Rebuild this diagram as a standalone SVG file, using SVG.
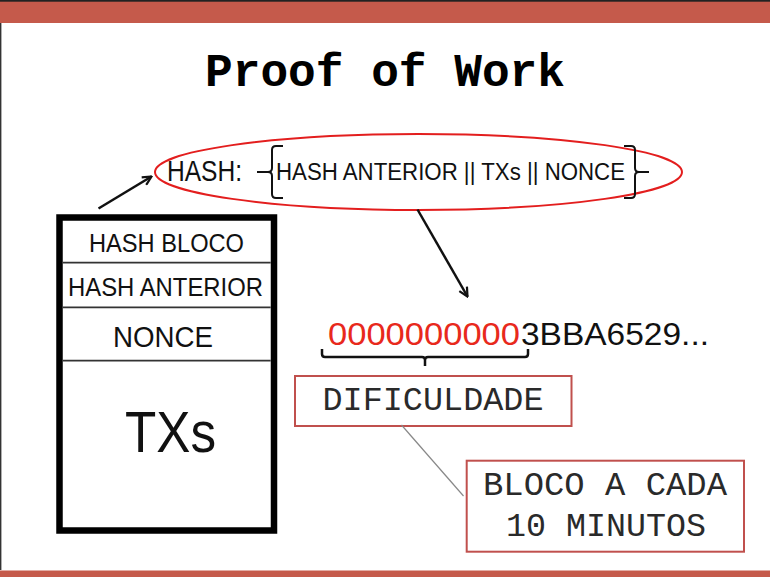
<svg xmlns="http://www.w3.org/2000/svg" width="770" height="577" viewBox="0 0 770 577">
<style>
.sans{font-family:"Liberation Sans",Arial,sans-serif;fill:#111}
.mono{font-family:"Liberation Mono","Courier New",monospace;fill:#2a2a2a}
.conn{stroke:#111;stroke-width:2.5;fill:none}
.box{fill:#fff;stroke:#C0504D;stroke-width:2}
.div{stroke:#333;stroke-width:1.8}
</style>
<defs>
<marker id="arr" viewBox="0 0 10 10" refX="9" refY="5" markerWidth="11" markerHeight="11" orient="auto" markerUnits="userSpaceOnUse">
<path d="M1,1 L9,5 L1,9" fill="none" stroke="#111" stroke-width="2"/>
</marker>
</defs>
<rect x="0" y="0" width="770" height="577" fill="#fff"/>
<rect x="0" y="0" width="770" height="23" fill="#C55A4B"/>
<rect x="0" y="0" width="770" height="1.7" fill="#222"/>
<rect x="0" y="570.5" width="770" height="6.5" fill="#C55A4B"/>
<line x1="0.7" y1="23" x2="0.7" y2="570" stroke="#333" stroke-width="1.4"/>

<g id="title">
<text x="385" y="86" text-anchor="middle" class="mono" style="font-weight:bold;fill:#000" font-size="46" textLength="360" lengthAdjust="spacingAndGlyphs">Proof of Work</text>
</g>

<g id="hash-formula">
<ellipse cx="418.5" cy="172" rx="263.5" ry="38" fill="none" stroke="#E31E1E" stroke-width="2"/>
<text x="167" y="181" class="sans" font-size="30" textLength="75" lengthAdjust="spacingAndGlyphs">HASH:</text>
<path d="M283,146 L276,146 Q272,146 272,150 L272,168 Q272,172 268,172 L257,172 M268,172 Q272,172 272,176 L272,194 Q272,198 276,198 L283,198" fill="none" stroke="#111" stroke-width="2"/>
<text x="276" y="180" class="sans" font-size="23.5" textLength="349" lengthAdjust="spacingAndGlyphs">HASH ANTERIOR || TXs || NONCE</text>
<path d="M624,146 L631,146 Q635,146 635,150 L635,168 Q635,172 639,172 L649,172 M639,172 Q635,172 635,176 L635,194 Q635,198 631,198 L624,198" fill="none" stroke="#111" stroke-width="2"/>
</g>

<g id="block">
<rect x="59.5" y="217.5" width="214.5" height="313" fill="#fff" stroke="#000" stroke-width="6.5"/>
<line x1="62.7" y1="262.7" x2="270.7" y2="262.7" class="div"/>
<line x1="62.7" y1="307.3" x2="270.7" y2="307.3" class="div"/>
<line x1="62.7" y1="360.7" x2="270.7" y2="360.7" class="div"/>
<text x="89" y="252" class="sans" font-size="26" textLength="155" lengthAdjust="spacingAndGlyphs">HASH BLOCO</text>
<text x="68" y="295.5" class="sans" font-size="26" textLength="195" lengthAdjust="spacingAndGlyphs">HASH ANTERIOR</text>
<text x="113" y="347" class="sans" font-size="29" textLength="100" lengthAdjust="spacingAndGlyphs">NONCE</text>
<text x="125" y="452" class="sans" font-size="58" textLength="91" lengthAdjust="spacingAndGlyphs">TXs</text>
</g>

<g id="hash-value">
<text x="328" y="345" class="sans" style="fill:#E8291C" font-size="32" textLength="192" lengthAdjust="spacingAndGlyphs">0000000000</text>
<text x="521" y="345" class="sans" font-size="32" textLength="188" lengthAdjust="spacingAndGlyphs">3BBA6529...</text>
<path d="M322,349 L322,354 Q322,357 325,357 L422,357 Q425,357 425,360 L425,366 M425,360 Q425,357 428,357 L525,357 Q528,357 528,354 L528,349" fill="none" stroke="#111" stroke-width="2.5"/>
</g>

<g id="dificuldade">
<rect x="295" y="376" width="276.5" height="50" class="box"/>
<text x="433" y="410" text-anchor="middle" class="mono" font-size="33" textLength="221" lengthAdjust="spacingAndGlyphs">DIFICULDADE</text>
</g>

<g id="bloco-tempo">
<rect x="466.7" y="460.7" width="277.3" height="91" class="box"/>
<text x="605" y="495" text-anchor="middle" class="mono" font-size="33" textLength="244" lengthAdjust="spacingAndGlyphs">BLOCO A CADA</text>
<text x="606" y="536" text-anchor="middle" class="mono" font-size="33" textLength="200" lengthAdjust="spacingAndGlyphs">10 MINUTOS</text>
</g>

<g id="connectors">
<line x1="98.5" y1="208.5" x2="151.5" y2="176.5" class="conn" marker-end="url(#arr)"/>
<line x1="417.5" y1="209.5" x2="467.5" y2="296.5" class="conn" marker-end="url(#arr)"/>
<line x1="401.5" y1="425" x2="463.5" y2="496" stroke="#888" stroke-width="1.2"/>
</g>
</svg>
